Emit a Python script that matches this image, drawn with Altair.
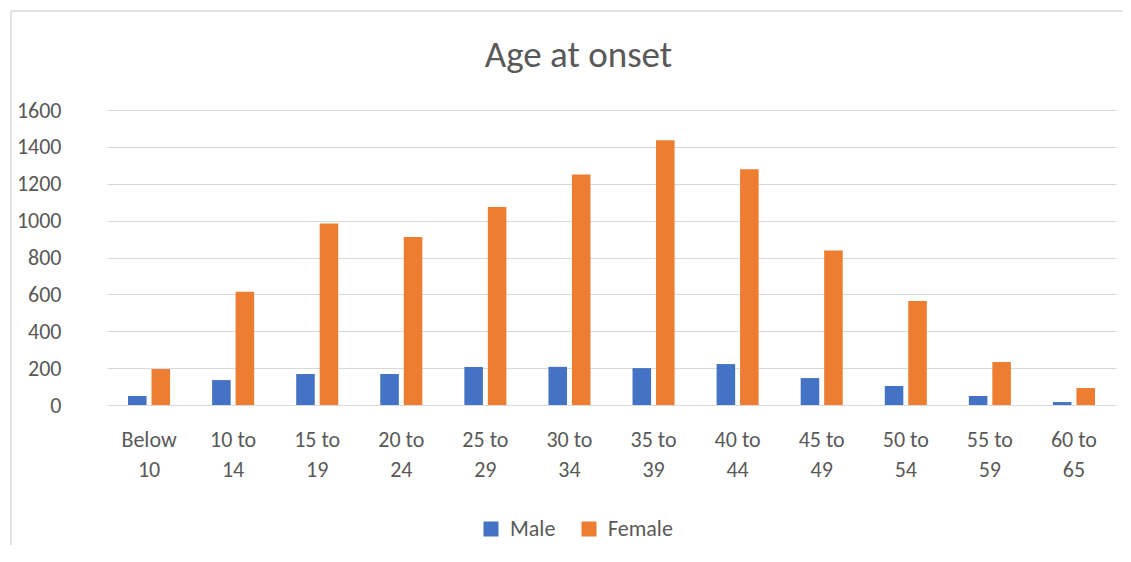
import altair as alt
import pandas as pd

categories = ["Below 10", "10 to 14", "15 to 19", "20 to 24", "25 to 29", "30 to 34",
              "35 to 39", "40 to 44", "45 to 49", "50 to 54", "55 to 59", "60 to 65"]
male = [49, 135, 168, 168, 206, 207, 200, 222, 146, 103, 49, 16]
female = [195, 614, 985, 911, 1074, 1250, 1436, 1278, 838, 564, 233, 92]
series = ["Male", "Female"]
colors = ["#4472C4", "#ED7D31"]
y_ticks = [0, 200, 400, 600, 800, 1000, 1200, 1400, 1600]

rows = []
for c, m, f in zip(categories, male, female):
    rows.append({"age": c, "sex": "Male", "count": m})
    rows.append({"age": c, "sex": "Female", "count": f})
df = pd.DataFrame(rows)

FONT = "Carlito, Calibri, Lato, sans-serif"
GREY = "#595959"

bars = alt.Chart(df).mark_bar().encode(
    x=alt.X("age:N", sort=categories, title=None,
            scale=alt.Scale(paddingInner=0.5, paddingOuter=0.25),
            axis=alt.Axis(labelAngle=0, ticks=False, grid=False, domainColor="#d9d9d9",
                          labelFontSize=22, labelColor=GREY, labelFont=FONT,
                          labelPadding=24, labelLineHeight=30,
                          labelExpr="[substring(datum.label,0,lastindexof(datum.label,' ')), substring(datum.label,lastindexof(datum.label,' ')+1)]")),
    xOffset=alt.XOffset("sex:N", sort=series, scale=alt.Scale(paddingInner=0.21)),
    y=alt.Y("count:Q", title=None, scale=alt.Scale(domain=[0, 1600]),
            axis=alt.Axis(values=y_ticks, ticks=False, domain=False, format="d",
                          gridColor="#d9d9d9", labelFontSize=22, labelColor=GREY,
                          labelFont=FONT, labelPadding=46)),
    color=alt.Color("sex:N", sort=series,
                    scale=alt.Scale(domain=series, range=colors),
                    legend=alt.Legend(title=None, orient="none", direction="horizontal",
                                      legendX=373, legendY=408, symbolType="square",
                                      symbolSize=225, symbolStrokeWidth=0,
                                      labelFontSize=22, labelColor=GREY, labelFont=FONT,
                                      columnPadding=22, labelOffset=8)),
)

one = pd.DataFrame({"a": [0]})
frame_left = alt.Chart(one).mark_rule(stroke="#d9d9d9", strokeWidth=1.5).encode(
    x=alt.value(-96), y=alt.value(-99), y2=alt.value(460),
)
frame_top = alt.Chart(one).mark_rule(stroke="#d9d9d9", strokeWidth=1.5).encode(
    x=alt.value(-96), x2=alt.value(1040), y=alt.value(-99),
)

chart = alt.layer(frame_left, frame_top, bars).properties(
    width=1009, height=295,
    title=alt.TitleParams("Age at onset", fontSize=37, font=FONT, color=GREY,
                          fontWeight="normal", anchor="middle", dx=-33, offset=-94,
                          baseline="alphabetic"),
    autosize=alt.AutoSizeParams(type="none"),
    padding={"left": 99, "top": 102, "right": 7, "bottom": 140},
).configure(
    background="white",
    view=alt.ViewConfig(stroke="transparent", strokeWidth=0),
    style={"cell": {"stroke": "transparent", "strokeWidth": 0}},
)

chart.save("out.html", embed_options={"renderer": "svg", "actions": False})
